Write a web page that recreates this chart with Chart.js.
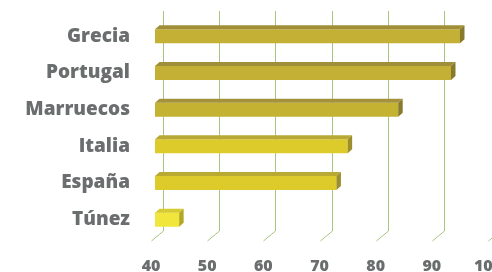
<!DOCTYPE html>
<html>
<head>
<meta charset="utf-8">
<script src="https://cdn.jsdelivr.net/npm/chart.js@4"></script>
<style>
  html, body { margin: 0; padding: 0; background: #fff; }
  #wrap { width: 492px; height: 272px; position: relative; }
</style>
</head>
<body>
<div id="wrap"><canvas id="chart"></canvas></div>
<script>
var countries = ['Grecia', 'Portugal', 'Marruecos', 'Italia', 'España', 'Túnez'];
var values = [94.3, 92.7, 83.3, 74.3, 72.3, 44.3];
var frontColors = ['#c3b034', '#c3b034', '#c4b233', '#dccb2b', '#dccb2b', '#f1e63b'];
var topColors = ['#a08f38', '#a08f38', '#a3923a', '#b8a835', '#b9aa33', '#d6cb30'];
var sideColors = ['#877a2d', '#877a2d', '#897b2d', '#9c8e2a', '#9c8e2a', '#b3a823'];
var xTicks = [40, 50, 60, 70, 80, 90, 100];

var textColor = '#6b6e6e';
var gridColor = '#a9c47c';

// fake 3d: back wall grid + floor, then bar top/side faces
var depth3d = {
    id: 'depth3d',
    beforeDatasetsDraw: function (chart) {
        var ctx = chart.ctx;
        var xs = chart.scales.x;
        var area = chart.chartArea;
        ctx.save();
        ctx.strokeStyle = gridColor;
        ctx.lineWidth = 1;
        xs.ticks.forEach(function (t) {
            var px = Math.round(xs.getPixelForValue(t.value) + 8) + 0.5;
            ctx.beginPath();
            ctx.moveTo(px, area.top - 7);
            ctx.lineTo(px, area.bottom - 7);
            ctx.lineTo(px - 12, area.bottom + 3);
            ctx.stroke();
        });
        ctx.restore();
    },
    afterDatasetsDraw: function (chart) {
        var ctx = chart.ctx;
        var dx = 4.5, dy = -4;
        var meta = chart.getDatasetMeta(0);
        var left = chart.chartArea.left;
        ctx.save();
        meta.data.forEach(function (bar, i) {
            var p = bar.getProps(['x', 'y', 'base', 'height'], true);
            var base = Math.max(p.base, left);
            var top = p.y - p.height / 2;
            var bottom = p.y + p.height / 2;
            ctx.fillStyle = topColors[i];
            ctx.beginPath();
            ctx.moveTo(base, top);
            ctx.lineTo(base + dx, top + dy);
            ctx.lineTo(p.x + dx, top + dy);
            ctx.lineTo(p.x, top);
            ctx.closePath();
            ctx.fill();
            ctx.fillStyle = sideColors[i];
            ctx.beginPath();
            ctx.moveTo(p.x, top);
            ctx.lineTo(p.x + dx, top + dy);
            ctx.lineTo(p.x + dx, bottom + dy);
            ctx.lineTo(p.x, bottom);
            ctx.closePath();
            ctx.fill();
        });
        ctx.restore();
    }
};

new Chart(document.getElementById('chart'), {
    type: 'bar',
    data: {
        labels: countries,
        datasets: [{
            data: values,
            backgroundColor: frontColors,
            borderWidth: 0,
            categoryPercentage: 1,
            barPercentage: 0.38
        }]
    },
    options: {
        indexAxis: 'y',
        responsive: true,
        maintainAspectRatio: false,
        animation: false,
        layout: { padding: { top: 18, left: 0, right: 0, bottom: 0 } },
        plugins: {
            legend: { display: false },
            tooltip: { enabled: false }
        },
        scales: {
            x: {
                min: 40,
                max: 100,
                afterBuildTicks: function (s) {
                    s.ticks = xTicks.map(function (v) { return { value: v }; });
                },
                grid: { display: false, drawTicks: false },
                border: { display: false },
                ticks: {
                    color: textColor,
                    padding: 19,
                    labelOffset: -4,
                    maxRotation: 0,
                    autoSkip: false,
                    font: { family: 'Open Sans', size: 16, weight: 800 }
                },
                afterFit: function (s) {
                    s.height = 34;
                    s.paddingLeft = 0;
                    s.paddingRight = 0;
                }
            },
            y: {
                grid: { display: false, drawTicks: false },
                border: { display: false },
                ticks: {
                    color: textColor,
                    padding: 25,
                    font: { family: 'Open Sans', size: 19, weight: 800 }
                },
                afterFit: function (s) {
                    s.width = 155;
                    s.paddingTop = 0;
                    s.paddingBottom = 0;
                }
            }
        }
    },
    plugins: [depth3d]
});
</script>
</body>
</html>
